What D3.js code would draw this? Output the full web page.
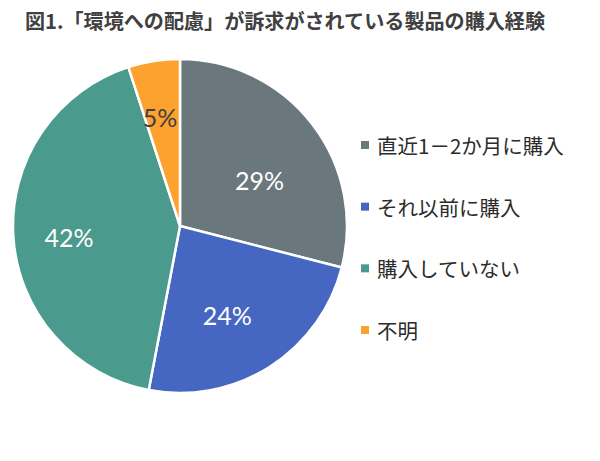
<!DOCTYPE html>
<html><head><meta charset="utf-8">
<script src="https://cdn.jsdelivr.net/npm/d3@7"></script>
<style>
html,body{margin:0;padding:0;background:#fff;}
svg{display:block;}
</style></head>
<body>
<svg id="c" width="600" height="461"></svg>
<script>
const categories = ["直近1－2か月に購入", "それ以前に購入", "購入していない", "不明"];
const values = [29, 24, 42, 5];
const labels = ["29%", "24%", "42%", "5%"];
const title = "図1.「環境への配慮」が訴求がされている製品の購入経験";

const colors = ["#6A777D", "#4566C1", "#4A9A8E", "#FDA22E"];
const labelColors = ["#ffffff", "#ffffff", "#ffffff", "#404040"];
const labelNudge = [[-3.5, 18.5], [-9, 0], [-6, 4.5], [-3.5, -5]];

const svg = d3.select("#c");
const cx = 180, cy = 226, r = 167;
const CJK = "'Noto Sans CJK JP', 'Noto Sans', sans-serif";

svg.append("text").attr("x", 25).attr("y", 29)
  .attr("font-family", CJK).attr("font-weight", "bold").attr("font-size", 20)
  .attr("fill", "#404040").attr("textLength", 520).attr("lengthAdjust", "spacingAndGlyphs")
  .text(title);

const pie = d3.pie().sort(null).value(d => d);
const arcs = pie(values);
const arc = d3.arc().innerRadius(0).outerRadius(r);
const labelArc = d3.arc().innerRadius(r * 0.63).outerRadius(r * 0.63);

const g = svg.append("g").attr("transform", `translate(${cx},${cy})`);
g.selectAll("path").data(arcs).join("path")
  .attr("d", arc).attr("fill", (d, i) => colors[i])
  .attr("stroke", "#fff").attr("stroke-width", 2.5).attr("stroke-linejoin", "round");

g.selectAll("text").data(arcs).join("text")
  .attr("transform", (d, i) => {
    const c = labelArc.centroid(d);
    return `translate(${c[0] + labelNudge[i][0]},${c[1] + labelNudge[i][1]})`;
  })
  .attr("text-anchor", "middle").attr("dominant-baseline", "central")
  .attr("font-family", "Lato, 'Open Sans', sans-serif").attr("font-weight", 400)
  .attr("font-size", 25).attr("fill", (d, i) => labelColors[i])
  .text((d, i) => labels[i]);

const legend = svg.append("g");
const ly = d3.scalePoint().domain(categories).range([145, 330]);
const item = legend.selectAll("g").data(categories).join("g")
  .attr("transform", d => `translate(361,${ly(d)})`);
item.append("rect").attr("x", 0).attr("y", -4).attr("width", 8).attr("height", 8)
  .attr("fill", (d, i) => colors[i]);
item.append("text").attr("x", 16).attr("y", 0).attr("dominant-baseline", "central")
  .attr("font-family", CJK).attr("font-size", 20.5).attr("fill", "#2b2b2b")
  .text(d => d);
</script>
</body></html>
